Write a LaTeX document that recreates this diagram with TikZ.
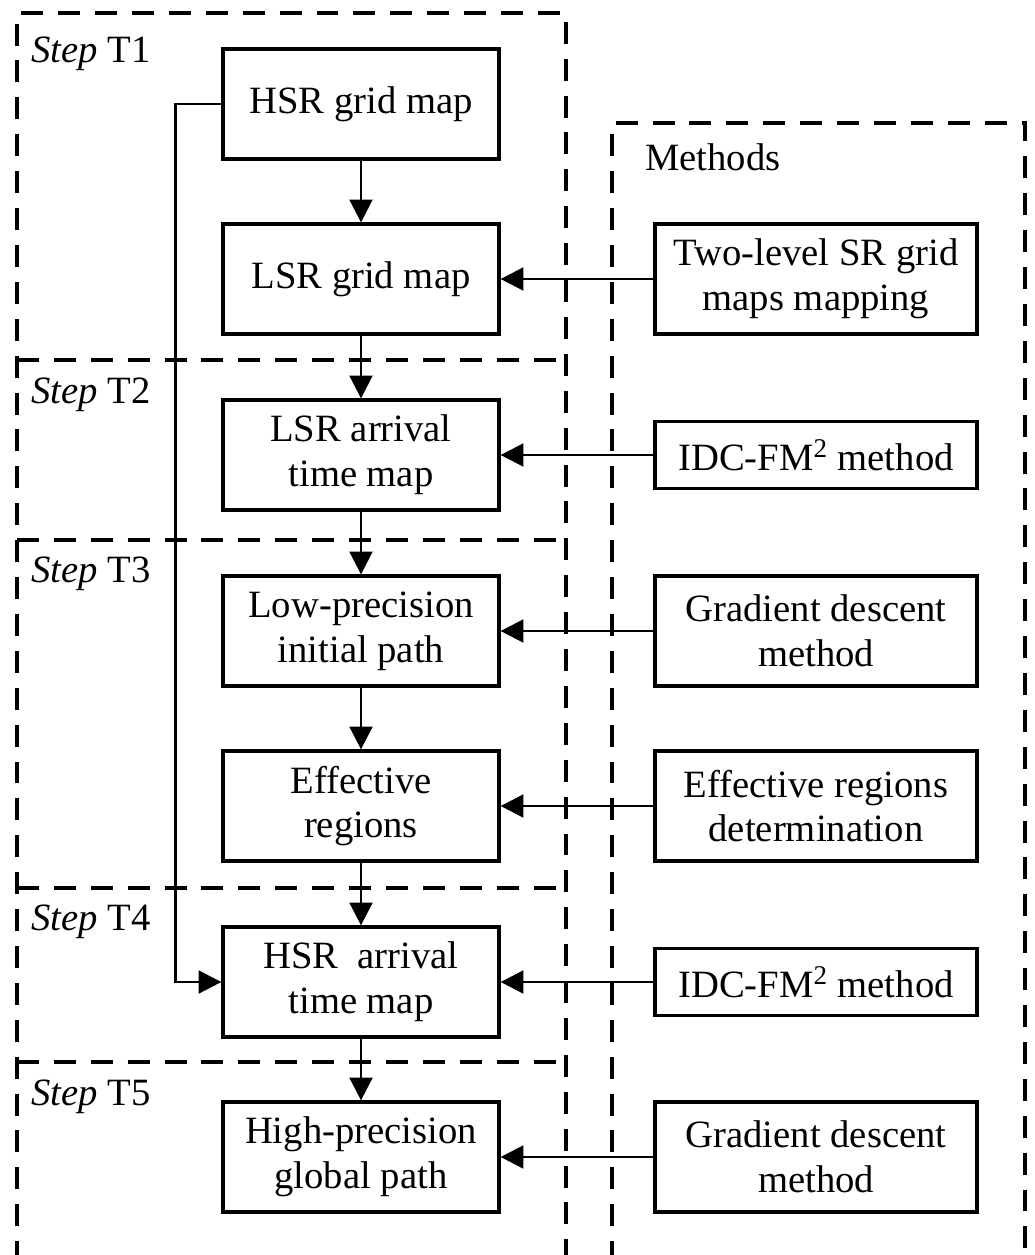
\documentclass[tikz,border=0pt]{standalone}
\usepackage{fontspec}
\setmainfont{Liberation Serif}
\usepackage{tikz}
\usetikzlibrary{arrows.meta, positioning, calc}
\definecolor{darktext}{HTML}{000000}

\begin{document}
\begin{tikzpicture}[x=0.02cm, y=-0.02cm,
        stepbox/.style={draw=darktext, line width=1.9pt, align=center, inner sep=2pt,
            minimum width=5.52cm, minimum height=2.2cm, font=\fontsize{22}{25.5}\selectfont},
        methbox/.style={stepbox, minimum width=6.44cm},
        panel/.style={draw=darktext, line width=1.9pt, dash pattern=on 12.5pt off 8.5pt},
        flow/.style={-{Triangle[length=13pt, width=13pt]}, line width=1.6pt, darktext},
        steplabel/.style={anchor=base west, inner sep=0pt, font=\fontsize{22}{25.5}\selectfont}]
            \useasboundingbox (0,0) rectangle (1035,1255);
            \clip (0,0) rectangle (1035,1255);
            % dashed panels
            \draw[panel] (17,1300) -- (17,13) -- (566,13) -- (566,1300);
            \foreach \ysep in {360,540,888,1062}
                \draw[panel] (17,\ysep) -- (566,\ysep);
            \draw[panel] (612,1300) -- (612,123) -- (1025,123) -- (1025,1300);
            \node[steplabel] (t1) at (31,62) {\textit{Step} T1};
            \node[steplabel] (t2) at (31,403) {\textit{Step} T2};
            \node[steplabel] (t3) at (31,582) {\textit{Step} T3};
            \node[steplabel] (t4) at (31,930) {\textit{Step} T4};
            \node[steplabel] (t5) at (31,1105) {\textit{Step} T5};
            \node[steplabel] (meth) at (645,170) {Methods};
            % main chain
            \node[stepbox] (hsrgrid) at (361,104) {HSR grid map};
            \node[stepbox] (lsrgrid) at (361,279) {LSR grid map};
            \node[stepbox] (lsrtime) at (361,455) {LSR arrival\\time map};
            \node[stepbox] (lowpath) at (361,631) {Low-precision\\initial path};
            \node[stepbox] (effreg) at (361,806) {Effective\\regions};
            \node[stepbox] (hsrtime) at (361,982) {HSR~ arrival\\time map};
            \node[stepbox] (hipath) at (361,1157) {High-precision\\global path};
            % methods
            \node[methbox] (mmap) at (816,279) {Two-level SR grid\\maps mapping};
            \node[methbox, minimum height=1.34cm] (mfma) at (816,455) {IDC-FM\textsuperscript{2} method};
            \node[methbox] (mgda) at (816,631) {Gradient descent\\method};
            \node[methbox] (meff) at (816,806) {Effective regions\\determination};
            \node[methbox, minimum height=1.34cm] (mfmb) at (816,982) {IDC-FM\textsuperscript{2} method};
            \node[methbox] (mgdb) at (816,1157) {Gradient descent\\method};
            \draw[flow] (hsrgrid) -- (lsrgrid);
            \draw[flow] (lsrgrid) -- (lsrtime);
            \draw[flow] (lsrtime) -- (lowpath);
            \draw[flow] (lowpath) -- (effreg);
            \draw[flow] (effreg) -- (hsrtime);
            \draw[flow] (hsrtime) -- (hipath);
            \draw[flow] (hsrgrid.west) -- ++(-46,0) |- (hsrtime.west);
            \draw[flow] (mmap) -- (lsrgrid);
            \draw[flow] (mfma) -- (lsrtime);
            \draw[flow] (mgda) -- (lowpath);
            \draw[flow] (meff) -- (effreg);
            \draw[flow] (mfmb) -- (hsrtime);
            \draw[flow] (mgdb) -- (hipath);
        \end{tikzpicture}
\end{document}
